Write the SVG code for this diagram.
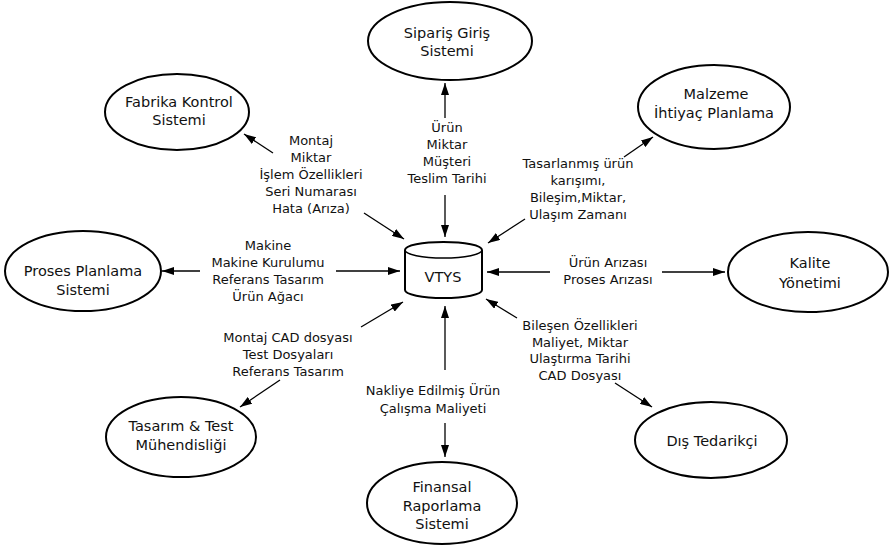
<svg xmlns="http://www.w3.org/2000/svg" width="890" height="545" viewBox="0 0 890 545">
<defs>
<marker id="ah" viewBox="0 0 12 8" refX="12" refY="4" markerWidth="12" markerHeight="8" markerUnits="userSpaceOnUse" orient="auto">
<path d="M0,0 L12,4 L0,8 Z" fill="#000"/>
</marker>
<style>
.node ellipse{fill:#fff;stroke:#000;stroke-width:2}
.nt{font-family:"DejaVu Sans","Noto Sans",sans-serif;font-size:14.5px;text-anchor:middle;fill:#111}
.lt{font-family:"DejaVu Sans","Noto Sans",sans-serif;font-size:13px;text-anchor:middle;fill:#111}
.conn line{stroke:#000;stroke-width:1.3;marker-end:url(#ah)}
</style>
</defs>
<rect width="890" height="545" fill="#fff"/>
<g id="connectors" class="conn">
<line x1="445" y1="118" x2="445" y2="83"/>
<line x1="445" y1="195" x2="445" y2="237"/>
<line x1="273" y1="153" x2="244" y2="134"/>
<line x1="364" y1="213" x2="404" y2="239"/>
<line x1="624" y1="157" x2="653" y2="137"/>
<line x1="525" y1="219" x2="488" y2="243"/>
<line x1="200" y1="271" x2="162" y2="271"/>
<line x1="336" y1="271" x2="400" y2="271"/>
<line x1="550" y1="272" x2="487" y2="272"/>
<line x1="662" y1="272" x2="725" y2="272"/>
<line x1="361" y1="327" x2="403" y2="302"/>
<line x1="280" y1="380" x2="240" y2="407"/>
<line x1="445" y1="370" x2="445" y2="306"/>
<line x1="445" y1="423" x2="445" y2="457"/>
<line x1="517" y1="318" x2="486" y2="299"/>
<line x1="615" y1="383" x2="652" y2="407"/>
</g>
<g id="vtys" class="node">
<path d="M405,250 A38.5,8 0 0,1 482,250 L482,290 A38.5,8 0 0,1 405,290 Z" fill="#fff" stroke="#000" stroke-width="2"/>
<path d="M405,250 A38.5,8 0 0,0 482,250" fill="none" stroke="#000" stroke-width="1.5"/>
<text class="nt" x="443" y="282" font-size="16">VTYS</text>
</g>
<g id="siparis" class="node">
<ellipse cx="450" cy="41" rx="82" ry="39"/>
<text class="nt" x="447" y="38">Sipariş Giriş</text>
<text class="nt" x="447" y="56">Sistemi</text>
</g>
<g id="fabrika" class="node">
<ellipse cx="177" cy="112" rx="72" ry="38"/>
<text class="nt" x="179" y="107">Fabrika Kontrol</text>
<text class="nt" x="179" y="125">Sistemi</text>
</g>
<g id="malzeme" class="node">
<ellipse cx="714" cy="107" rx="76" ry="42"/>
<text class="nt" x="716" y="99">Malzeme</text>
<text class="nt" x="714" y="118">İhtiyaç Planlama</text>
</g>
<g id="proses" class="node">
<ellipse cx="83" cy="271" rx="78" ry="40"/>
<text class="nt" x="83" y="276">Proses Planlama</text>
<text class="nt" x="83" y="295">Sistemi</text>
</g>
<g id="kalite" class="node">
<ellipse cx="808" cy="272" rx="80" ry="40"/>
<text class="nt" x="810" y="268">Kalite</text>
<text class="nt" x="810" y="288">Yönetimi</text>
</g>
<g id="tasarim" class="node">
<ellipse cx="181" cy="437" rx="75" ry="40"/>
<text class="nt" x="181" y="431">Tasarım &amp; Test</text>
<text class="nt" x="181" y="450">Mühendisliği</text>
</g>
<g id="dis" class="node">
<ellipse cx="711" cy="440" rx="76" ry="38"/>
<text class="nt" x="712" y="446">Dış Tedarikçi</text>
</g>
<g id="finansal" class="node">
<ellipse cx="442" cy="503" rx="75" ry="41"/>
<text class="nt" x="442" y="492">Finansal</text>
<text class="nt" x="442" y="511">Raporlama</text>
<text class="nt" x="442" y="529">Sistemi</text>
</g>
<g id="labels">
<text class="lt" x="447" y="132">Ürün</text>
<text class="lt" x="447" y="149">Miktar</text>
<text class="lt" x="447" y="166">Müşteri</text>
<text class="lt" x="447" y="183">Teslim Tarihi</text>
<text class="lt" x="311" y="145">Montaj</text>
<text class="lt" x="311" y="162">Miktar</text>
<text class="lt" x="311" y="179">İşlem Özellikleri</text>
<text class="lt" x="311" y="196">Seri Numarası</text>
<text class="lt" x="311" y="213">Hata (Arıza)</text>
<text class="lt" x="578" y="168">Tasarlanmış ürün</text>
<text class="lt" x="578" y="185">karışımı,</text>
<text class="lt" x="578" y="202">Bileşim,Miktar,</text>
<text class="lt" x="578" y="219">Ulaşım Zamanı</text>
<text class="lt" x="268" y="250">Makine</text>
<text class="lt" x="268" y="267">Makine Kurulumu</text>
<text class="lt" x="268" y="284">Referans Tasarım</text>
<text class="lt" x="268" y="301">Ürün Ağacı</text>
<text class="lt" x="608" y="267">Ürün Arızası</text>
<text class="lt" x="608" y="284">Proses Arızası</text>
<text class="lt" x="288" y="342">Montaj CAD dosyası</text>
<text class="lt" x="288" y="359">Test Dosyaları</text>
<text class="lt" x="288" y="376">Referans Tasarım</text>
<text class="lt" x="580" y="330">Bileşen Özellikleri</text>
<text class="lt" x="580" y="347">Maliyet, Miktar</text>
<text class="lt" x="580" y="363">Ulaştırma Tarihi</text>
<text class="lt" x="580" y="380">CAD Dosyası</text>
<text class="lt" x="433" y="395">Nakliye Edilmiş Ürün</text>
<text class="lt" x="433" y="413">Çalışma Maliyeti</text>
</g>
</svg>
